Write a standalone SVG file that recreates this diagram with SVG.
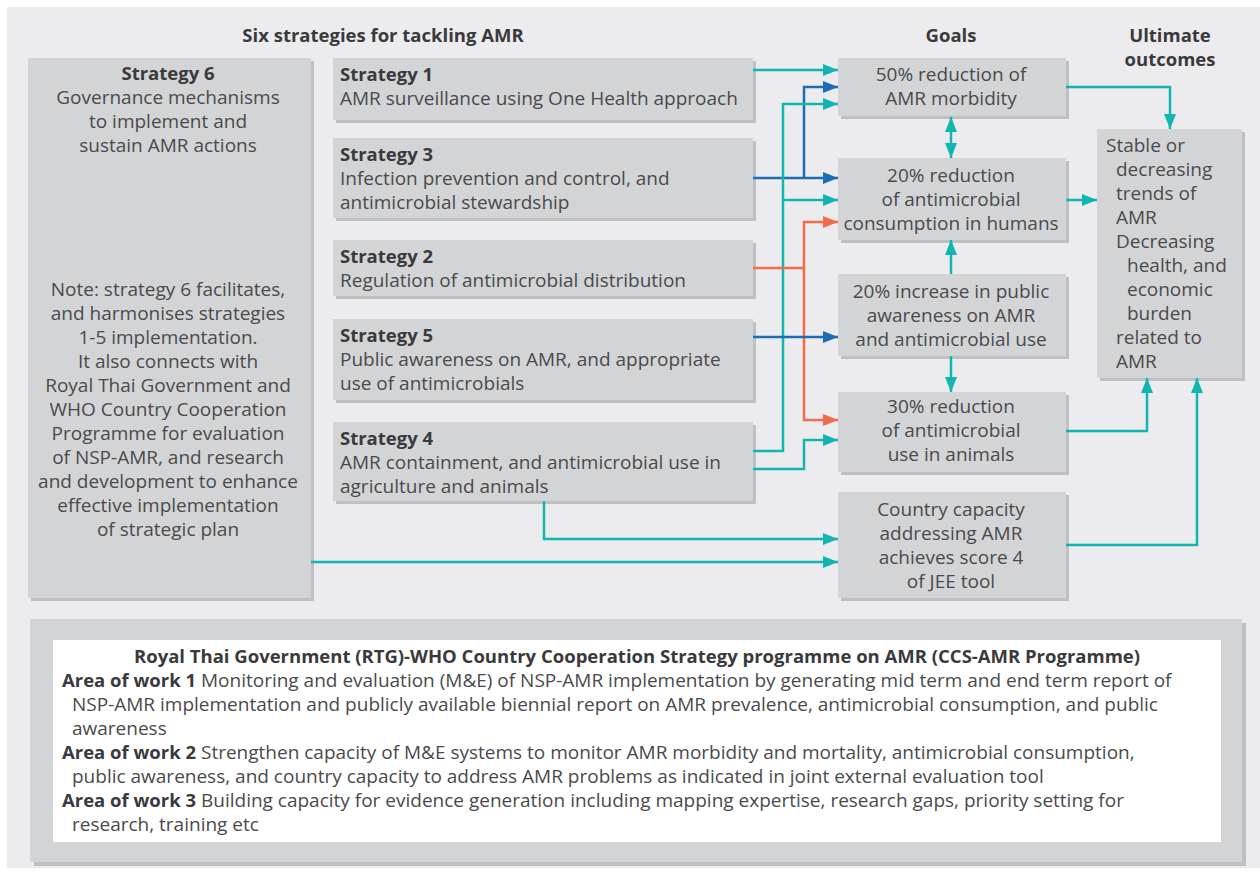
<svg xmlns="http://www.w3.org/2000/svg" width="1260" height="879" viewBox="0 0 1260 879">
<defs>
<style>
text{font-family:"Open Sans","Noto Sans",sans-serif;font-size:19px;fill:#4a4a4c}
.b{font-weight:bold;fill:#3a3a3c;font-size:18.5px}
.c{text-anchor:middle}
.box{fill:#d3d4d6}
.sh{fill:#bfc0c2}
.t{fill:none;stroke:#13b5b1;stroke-width:2.5}
.bl{fill:none;stroke:#1c6db6;stroke-width:2.5}
.o{fill:none;stroke:#f26b4b;stroke-width:2.5}
</style>
<marker id="at" markerUnits="userSpaceOnUse" markerWidth="16" markerHeight="12" refX="15" refY="6" orient="auto-start-reverse"><path d="M0,0 L15,6 L0,12 Z" fill="#13b5b1"/></marker>
<marker id="ab" markerUnits="userSpaceOnUse" markerWidth="16" markerHeight="12" refX="15" refY="6" orient="auto"><path d="M0,0 L15,6 L0,12 Z" fill="#1c6db6"/></marker>
<marker id="ao" markerUnits="userSpaceOnUse" markerWidth="16" markerHeight="12" refX="15" refY="6" orient="auto"><path d="M0,0 L15,6 L0,12 Z" fill="#f26b4b"/></marker>
</defs>
<rect x="0" y="0" width="1260" height="879" fill="#ffffff"/>
<rect x="7" y="7" width="1253" height="861" fill="#ececee"/>

<g id="headers">
<text class="b c" x="383" y="42">Six strategies for tackling AMR</text>
<text class="b c" x="951" y="42">Goals</text>
<text class="b c" x="1170" y="42">Ultimate</text>
<text class="b c" x="1170" y="66">outcomes</text>
</g>

<g id="strategy6">
<rect class="sh" x="31" y="61" width="283" height="540"/>
<rect class="box" x="28" y="58" width="283" height="540"/>
<text class="b c" x="168" y="80">Strategy 6</text>
<text class="c" x="168" y="104">Governance mechanisms</text>
<text class="c" x="168" y="128">to implement and</text>
<text class="c" x="168" y="152">sustain AMR actions</text>
<text class="c" x="168" y="296">Note: strategy 6 facilitates,</text>
<text class="c" x="168" y="320">and harmonises strategies</text>
<text class="c" x="168" y="344">1-5 implementation.</text>
<text class="c" x="168" y="368">It also connects with</text>
<text class="c" x="168" y="392">Royal Thai Government and</text>
<text class="c" x="168" y="416">WHO Country Cooperation</text>
<text class="c" x="168" y="440">Programme for evaluation</text>
<text class="c" x="168" y="464">of NSP-AMR, and research</text>
<text class="c" x="168" y="488">and development to enhance</text>
<text class="c" x="168" y="512">effective implementation</text>
<text class="c" x="168" y="536">of strategic plan</text>
</g>

<g id="strategy1">
<rect class="sh" x="336" y="61" width="420" height="62"/>
<rect class="box" x="333" y="58" width="420" height="62"/>
<text class="b" x="340" y="81">Strategy 1</text>
<text x="340" y="105">AMR surveillance using One Health approach</text>
</g>
<g id="strategy3">
<rect class="sh" x="336" y="141" width="420" height="80"/>
<rect class="box" x="333" y="138" width="420" height="80"/>
<text class="b" x="340" y="161">Strategy 3</text>
<text x="340" y="185">Infection prevention and control, and</text>
<text x="340" y="209">antimicrobial stewardship</text>
</g>
<g id="strategy2">
<rect class="sh" x="336" y="243" width="420" height="56"/>
<rect class="box" x="333" y="240" width="420" height="56"/>
<text class="b" x="340" y="263">Strategy 2</text>
<text x="340" y="287">Regulation of antimicrobial distribution</text>
</g>
<g id="strategy5">
<rect class="sh" x="336" y="322" width="420" height="81"/>
<rect class="box" x="333" y="319" width="420" height="81"/>
<text class="b" x="340" y="342">Strategy 5</text>
<text x="340" y="366">Public awareness on AMR, and appropriate</text>
<text x="340" y="390">use of antimicrobials</text>
</g>
<g id="strategy4">
<rect class="sh" x="336" y="425" width="420" height="79"/>
<rect class="box" x="333" y="422" width="420" height="79"/>
<text class="b" x="340" y="445">Strategy 4</text>
<text x="340" y="469">AMR containment, and antimicrobial use in</text>
<text x="340" y="493">agriculture and animals</text>
</g>

<g id="goal-morbidity">
<rect class="sh" x="841" y="61" width="228" height="58"/>
<rect class="box" x="838" y="58" width="228" height="58"/>
<text class="c" x="951" y="81">50% reduction of</text>
<text class="c" x="951" y="105">AMR morbidity</text>
</g>
<g id="goal-humans">
<rect class="sh" x="841" y="161" width="228" height="82"/>
<rect class="box" x="838" y="158" width="228" height="82"/>
<text class="c" x="951" y="182">20% reduction</text>
<text class="c" x="951" y="206">of antimicrobial</text>
<text class="c" x="951" y="230">consumption in humans</text>
</g>
<g id="goal-awareness">
<rect class="sh" x="841" y="277" width="228" height="82"/>
<rect class="box" x="838" y="274" width="228" height="82"/>
<text class="c" x="951" y="298">20% increase in public</text>
<text class="c" x="951" y="322">awareness on AMR</text>
<text class="c" x="951" y="346">and antimicrobial use</text>
</g>
<g id="goal-animals">
<rect class="sh" x="841" y="395" width="228" height="80"/>
<rect class="box" x="838" y="392" width="228" height="80"/>
<text class="c" x="951" y="413">30% reduction</text>
<text class="c" x="951" y="437">of antimicrobial</text>
<text class="c" x="951" y="461">use in animals</text>
</g>
<g id="goal-capacity">
<rect class="sh" x="841" y="495" width="228" height="106"/>
<rect class="box" x="838" y="492" width="228" height="106"/>
<text class="c" x="951" y="516">Country capacity</text>
<text class="c" x="951" y="540">addressing AMR</text>
<text class="c" x="951" y="564">achieves score 4</text>
<text class="c" x="951" y="588">of JEE tool</text>
</g>

<g id="outcome">
<rect class="sh" x="1100" y="132" width="145" height="249"/>
<rect class="box" x="1097" y="129" width="145" height="249"/>
<text x="1106" y="152">Stable or</text>
<text x="1116" y="176">decreasing</text>
<text x="1116" y="200">trends of</text>
<text x="1116" y="224">AMR</text>
<text x="1116" y="248">Decreasing</text>
<text x="1127" y="272">health, and</text>
<text x="1127" y="296">economic</text>
<text x="1127" y="320">burden</text>
<text x="1116" y="344">related to</text>
<text x="1116" y="368">AMR</text>
</g>

<g id="connectors">
<path class="t" d="M753,70 H838" marker-end="url(#at)"/>
<path class="bl" d="M753,178 H838" marker-end="url(#ab)"/>
<path class="bl" d="M804,178 V87 H838" marker-end="url(#ab)"/>
<path class="t" d="M753,451 H783 V104 H838" marker-end="url(#at)"/>
<path class="t" d="M783,200 H838" marker-end="url(#at)"/>
<path class="o" d="M753,268 H804 V222 H838" marker-end="url(#ao)"/>
<path class="o" d="M804,268 V420 H838" marker-end="url(#ao)"/>
<path class="bl" d="M753,337 H838" marker-end="url(#ab)"/>
<path class="t" d="M753,469 H804 V440 H838" marker-end="url(#at)"/>
<path class="t" d="M544,501 V539 H838" marker-end="url(#at)"/>
<path class="t" d="M311,562 H838" marker-end="url(#at)"/>
<path class="t" d="M951,117 V158" marker-start="url(#at)" marker-end="url(#at)"/>
<path class="t" d="M951,274 V240" marker-end="url(#at)"/>
<path class="t" d="M951,356 V392" marker-end="url(#at)"/>
<path class="t" d="M1066,87 H1170 V129" marker-end="url(#at)"/>
<path class="t" d="M1066,200 H1097" marker-end="url(#at)"/>
<path class="t" d="M1066,431 H1147 V378" marker-end="url(#at)"/>
<path class="t" d="M1066,545 H1197 V378" marker-end="url(#at)"/>
</g>

<g id="ccs-panel">
<rect x="34" y="623" width="1212" height="243" fill="#bfc0c2"/>
<rect x="30" y="619" width="1212" height="243" fill="#d3d4d6"/>
<rect x="53" y="640" width="1168" height="202" fill="#ffffff"/>
<text class="b c" x="637" y="663">Royal Thai Government (RTG)-WHO Country Cooperation Strategy programme on AMR (CCS-AMR Programme)</text>
<text x="62" y="687"><tspan class="b">Area of work 1</tspan> Monitoring and evaluation (M&amp;E) of NSP-AMR implementation by generating mid term and end term report of</text>
<text x="72" y="711">NSP-AMR implementation and publicly available biennial report on AMR prevalence, antimicrobial consumption, and public</text>
<text x="72" y="735">awareness</text>
<text x="62" y="759"><tspan class="b">Area of work 2</tspan> Strengthen capacity of M&amp;E systems to monitor AMR morbidity and mortality, antimicrobial consumption,</text>
<text x="72" y="783">public awareness, and country capacity to address AMR problems as indicated in joint external evaluation tool</text>
<text x="62" y="807"><tspan class="b">Area of work 3</tspan> Building capacity for evidence generation including mapping expertise, research gaps, priority setting for</text>
<text x="72" y="831">research, training etc</text>
</g>
</svg>
